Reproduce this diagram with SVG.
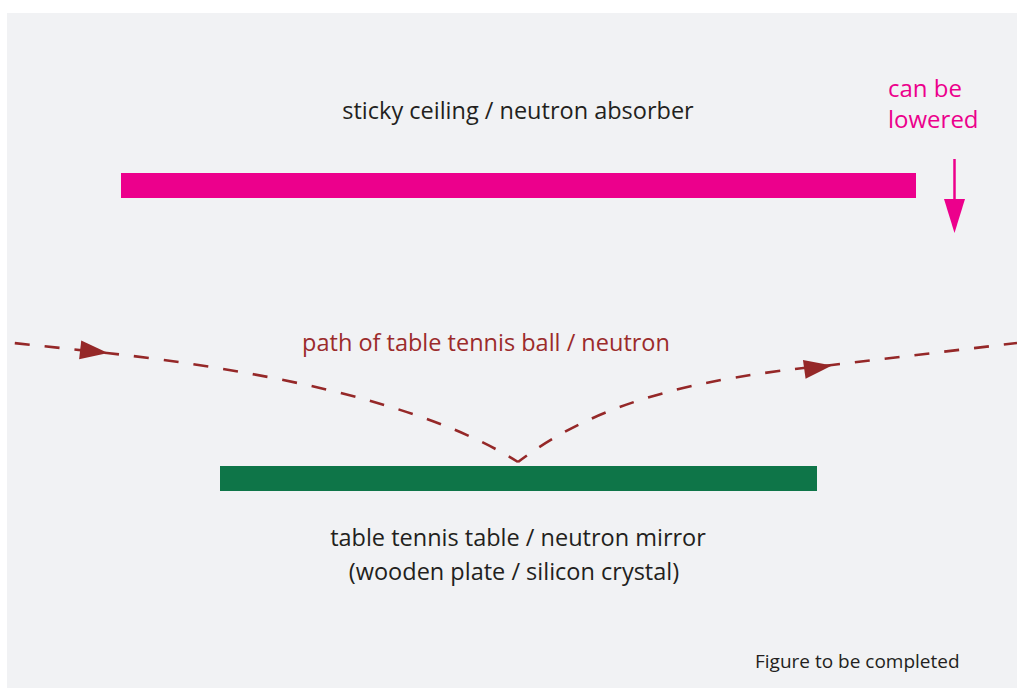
<svg xmlns="http://www.w3.org/2000/svg" width="1017" height="688" viewBox="0 0 1017 688">
<style>
.lbl{font-family:"Open Sans","Noto Sans","Liberation Sans",Arial,sans-serif;font-size:23.5px;fill:#231f20}
.pink{fill:#ec008c;font-size:24px}
.red{fill:#9b2b2b}
.small{font-size:19px}
.path{fill:none;stroke:#952828;stroke-width:2.6;stroke-dasharray:15 15;stroke-dashoffset:4;stroke-linejoin:miter}
</style>
<defs>
<path id="ah" d="M0,0 L-28,-9.5 L-28,9.5 Z" fill="#952828"/>
</defs>
<rect x="0" y="0" width="1017" height="688" fill="#ffffff"/>
<rect x="7" y="13" width="1010" height="675" fill="#f1f2f4"/>
<g id="ceiling">
<rect x="121" y="173" width="795" height="25" fill="#ec008c"/>
<text class="lbl" x="518" y="119" text-anchor="middle">sticky ceiling / neutron absorber</text>
</g>
<g id="lowered">
<text class="lbl pink" x="888" y="97">can be</text>
<text class="lbl pink" x="888" y="128">lowered</text>
<line x1="954.5" y1="159" x2="954.5" y2="202" stroke="#ec008c" stroke-width="2.5"/>
<path d="M944,199 L965,199 L954.5,233 Z" fill="#ec008c"/>
</g>
<g id="table">
<rect x="220" y="466" width="597" height="25" fill="#0e7548"/>
<text class="lbl" x="518" y="546" text-anchor="middle">table tennis table / neutron mirror</text>
<text class="lbl" x="514" y="580" text-anchor="middle">(wooden plate / silicon crystal)</text>
</g>
<g id="connectors">
<path class="path" d="M518,462 C420,400 250,369 107,353 L14,343"/>
<path class="path" d="M518,462 C600,400 700,378 832,365 L1017,343"/>
<use href="#ah" transform="translate(108,353) rotate(6.5)"/>
<use href="#ah" transform="translate(832,365.5) rotate(-8)"/>
<text class="lbl red" x="486" y="351" text-anchor="middle">path of table tennis ball / neutron</text>
</g>
<text class="lbl small" x="755" y="668">Figure to be completed</text>
</svg>
